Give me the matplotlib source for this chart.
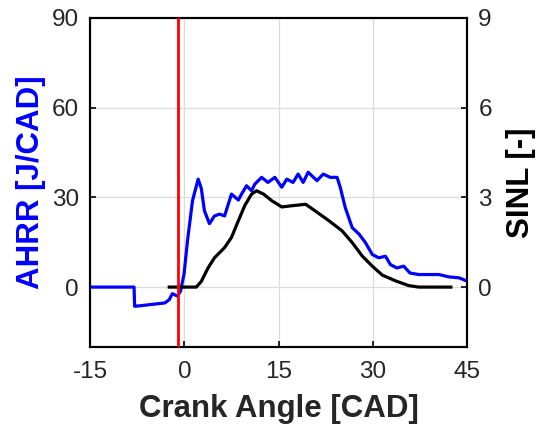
import matplotlib.pyplot as plt

plt.rcParams['font.family'] = ['Liberation Sans', 'DejaVu Sans']
plt.rcParams['axes.unicode_minus'] = False

# apparent heat release rate, left axis [J/CAD]
ca_ahrr = [-15, -8.0, -7.9, -7.7, -3.1, -2.4, -1.9, -1.1, -0.6, -0.05, 0.5, 1.3,
           2.2, 2.7, 3.2, 4.0, 4.8, 5.6, 6.4, 7.5, 8.6, 9.1, 9.9, 10.7, 11.2,
           12.3, 13.3, 14.4, 15.5, 16.3, 17.3, 18.1, 18.9, 19.7, 21.1, 22.1,
           23.2, 24.3, 24.8, 25.6, 26.7, 27.8, 28.8, 29.9, 30.9, 32.0, 32.8,
           33.8, 34.9, 35.9, 37.3, 40.5, 42.1, 43.7, 45]
ahrr = [0, 0, -6.4, -6.4, -5.3, -4.2, -2.2, -3.0, -1.3, 4.3, 15.4, 28.9,
        36.1, 33.0, 25.5, 21.2, 23.8, 24.4, 23.8, 31.1, 29.1, 31.1, 33.9, 32.2,
        34.4, 36.7, 35.0, 36.7, 33.4, 36.1, 35.0, 37.8, 35.0, 38.4, 35.6, 37.8,
        36.7, 36.7, 33.4, 26.6, 19.9, 17.7, 14.9, 10.9, 9.8, 10.3, 7.5,
        6.4, 7.0, 4.7, 4.2, 4.2, 3.4, 3.1, 2.0]

# SINL, right axis [-]
ca_sinl = [-2.4, 1.9, 2.7, 3.8, 4.8, 6.4, 7.5, 8.6, 9.6, 10.7, 11.5, 12.6,
           13.9, 15.5, 17.1, 19.3, 20.8, 23.0, 25.1, 26.7, 28.3, 29.9, 31.5,
           33.7, 35.7, 37.3, 42.4]
sinl = [0, 0, 0.19, 0.65, 0.98, 1.32, 1.66, 2.22, 2.72, 3.11, 3.22, 3.11,
        2.89, 2.68, 2.72, 2.77, 2.55, 2.22, 1.88, 1.49, 1.04, 0.70, 0.40,
        0.20, 0.05, 0, 0]

soi = -1.0
xticks = [-15, 0, 15, 30, 45]
yticks_left = [0, 30, 60, 90]
yticks_right = [0, 3, 6, 9]

tick_color = '#262626'

fig = plt.figure(figsize=(5.49, 4.38), dpi=100)
ax = fig.add_axes([0.164, 0.208, 0.687, 0.751])
ax2 = ax.twinx()

ax.plot(ca_ahrr, ahrr, color='#0000ff', lw=2.3, zorder=3)
ax2.plot(ca_sinl, sinl, color='black', lw=2.3, zorder=3)
ax2.axvline(soi, color='#ff0000', lw=2.0, zorder=4)

ax.set_xlim(-15, 45)
ax.set_ylim(-20, 90)
ax2.set_ylim(-2, 9)
ax.set_xticks(xticks)
ax.set_yticks(yticks_left)
ax2.set_yticks(yticks_right)

ax.grid(True, color='#dcdcdc', lw=0.9)
ax.set_axisbelow(True)

for a in (ax, ax2):
    a.tick_params(direction='in', length=4, width=1.2, labelsize=17.5,
                  labelcolor=tick_color, colors='black', pad=8)
    for s in a.spines.values():
        s.set_linewidth(1.5)
ax.tick_params(axis='x', pad=10)

ax.set_xlabel('Crank Angle [CAD]', fontsize=22.5, fontweight='bold',
              color=tick_color, labelpad=8)
ax.set_ylabel('AHRR [J/CAD]', fontsize=22.5, fontweight='bold',
              color='#0000ff', labelpad=4)
ax2.set_ylabel('SINL [-]', fontsize=22.5, fontweight='bold', color='black',
               labelpad=10)

fig.savefig('out.png', dpi=100)
